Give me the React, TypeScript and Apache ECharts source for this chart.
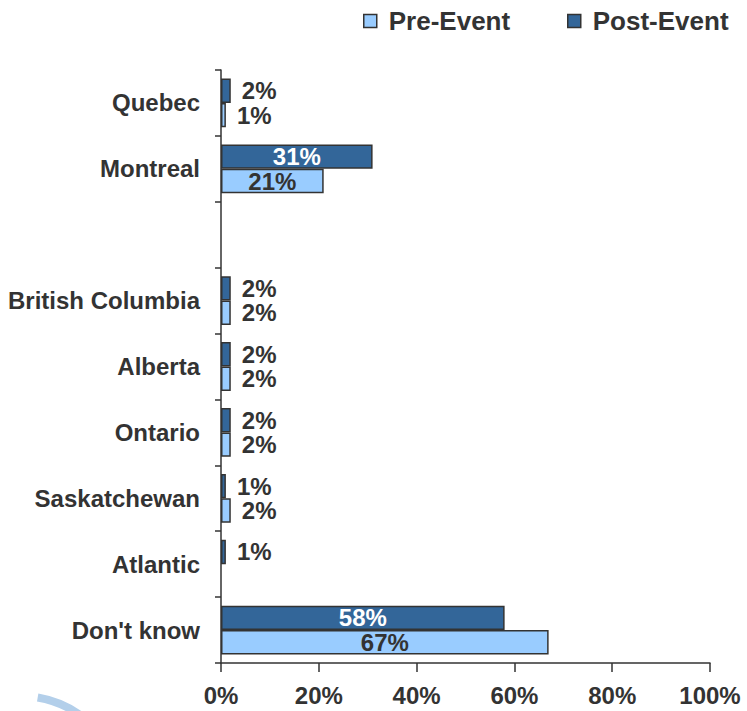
import React, { useEffect, useRef } from "react";
import * as echarts from "echarts";

const categories = ["Quebec", "Montreal", "", "British Columbia", "Alberta", "Ontario", "Saskatchewan", "Atlantic", "Don't know"];
const postEvent: (number | null)[] = [2, 31, null, 2, 2, 2, 1, 1, 58];
const preEvent: (number | null)[] = [1, 21, null, 2, 2, 2, 2, null, 67];
const xTicks = [0, 20, 40, 60, 80, 100];

const FONT = "'Liberation Sans', Arial, sans-serif";
const TEXT = "#333333";

function items(values: (number | null)[], insideColor: string) {
  return values.map((v) => {
    if (v === null) return { value: null };
    const big = v > 10;
    return {
      value: v,
      label: big
        ? { position: "inside", color: insideColor }
        : { position: "right", color: TEXT, distance: 11 },
    };
  });
}

export default function App() {
  const ref = useRef<HTMLDivElement>(null);
  useEffect(() => {
    if (!ref.current) return;
    const chart = echarts.init(ref.current, undefined, { renderer: "svg" });
    const labelBase = {
      show: true,
      formatter: "{c}%",
      fontFamily: FONT,
      fontWeight: "bold",
      fontSize: 24,
    };
    const legendBase = {
      top: 3,
      itemWidth: 13,
      itemHeight: 13,
      icon: "rect",
      itemStyle: { borderColor: "#333", borderWidth: 1.5 },
      textStyle: {
        fontFamily: FONT,
        fontWeight: "bold",
        fontSize: 26,
        color: TEXT,
        padding: [0, 0, 0, 7],
      },
    };
    chart.setOption({
      animation: false,
      backgroundColor: "#ffffff",
      legend: [
        { ...legendBase, left: 358, data: ["Pre-Event"] },
        { ...legendBase, left: 562, data: ["Post-Event"] },
      ],
      graphic: [
        {
          type: "arc",
          shape: { cx: 20, cy: 800, r: 104, startAngle: -1.4, endAngle: -0.85, clockwise: true },
          style: { stroke: "#b3cfea", lineWidth: 8, fill: null },
          silent: true,
        },
      ],
      grid: { left: 221, right: 37, top: 70, bottom: 48, containLabel: false },
      xAxis: {
        type: "value",
        min: xTicks[0],
        max: xTicks[xTicks.length - 1],
        interval: xTicks[1] - xTicks[0],
        splitLine: { show: false },
        axisLine: { show: true, lineStyle: { color: TEXT, width: 1.5 } },
        axisTick: { show: true, length: 9, lineStyle: { color: TEXT, width: 1.5 } },
        axisLabel: {
          formatter: "{value}%",
          fontFamily: FONT,
          fontWeight: "bold",
          fontSize: 24,
          color: TEXT,
          margin: 20,
        },
      },
      yAxis: {
        type: "category",
        inverse: true,
        data: categories,
        axisLine: { show: true, lineStyle: { color: TEXT, width: 1.5 } },
        axisTick: { show: true, length: 6, lineStyle: { color: TEXT, width: 1.5 } },
        axisLabel: {
          fontFamily: FONT,
          fontWeight: "bold",
          fontSize: 24,
          color: TEXT,
          margin: 21,
        },
      },
      series: [
        {
          name: "Post-Event",
          type: "bar",
          data: items(postEvent, "#ffffff"),
          barGap: "0%",
          barCategoryGap: "26%",
          itemStyle: { color: "#336699", borderColor: "#333", borderWidth: 1.5 },
          label: labelBase,
        },
        {
          name: "Pre-Event",
          type: "bar",
          data: items(preEvent, TEXT),
          barGap: "0%",
          barCategoryGap: "26%",
          itemStyle: { color: "#99ccff", borderColor: "#333", borderWidth: 1.5 },
          label: labelBase,
        },
      ],
    });
    return () => chart.dispose();
  }, []);
  return (
    <div
      ref={ref}
      style={{ position: "fixed", left: 0, top: 0, width: 747, height: 711, background: "#fff" }}
    />
  );
}
